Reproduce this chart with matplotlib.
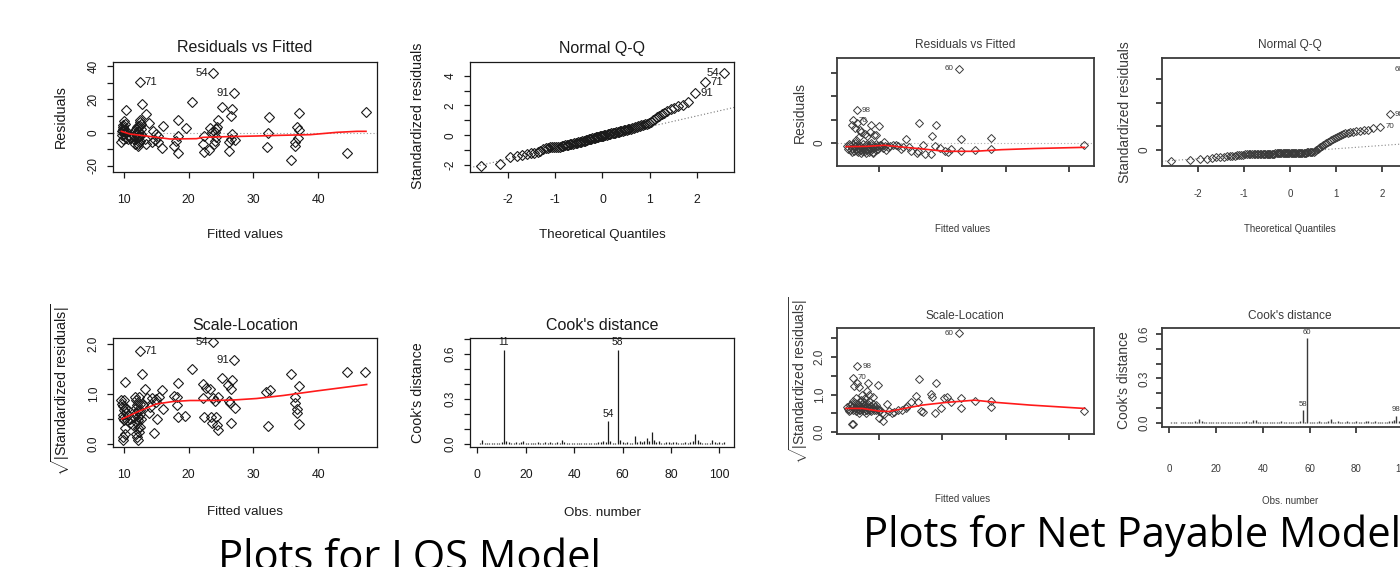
"""Regression diagnostic panels for the LOS and Net Payable models, as on the slide."""

from statistics import NormalDist

import matplotlib

matplotlib.use("Agg")
import matplotlib.pyplot as plt

# ---------------------------------------------------------------- LOS model
# residuals vs fitted (first three points are the labelled ones)
LOS_FITTED = [23.8, 12.4, 27.0,
              9.6, 9.7, 9.8, 9.9, 9.9, 10.0, 10.2, 10.1, 10.3, 10.7, 10.9, 10.3, 9.7, 9.8, 10.0, 10.1, 9.9, 10.4, 10.6, 11.0,
              11.5, 11.7, 11.7, 11.9, 12.0, 12.0, 12.1, 12.2, 12.3, 12.4, 12.4, 12.5, 12.5, 12.6, 12.7, 12.2, 12.3, 12.1,
              12.0, 11.8, 12.6, 12.4, 12.2, 11.6, 12.8, 13.2, 13.4, 13.4,
              13.9, 14.4, 14.5, 15.2, 15.3, 15.8, 16.0, 14.8, 15.0,
              17.7, 18.1, 18.4, 18.4, 18.4, 19.6, 20.5,
              22.2, 22.3, 22.3, 23.2, 23.3, 23.6, 23.9, 24.0, 24.1, 24.2, 24.2, 24.3, 24.6, 25.1,
              26.2, 26.3, 26.5, 26.5, 26.7, 26.7, 27.2,
              32.1, 32.2, 32.4,
              35.8, 36.4, 36.5, 36.7, 36.9, 37.1, 37.1,
              44.5, 47.4]
LOS_RESID = [35.6, 30.2, 24.0,
             -5.8, -1.2, 1.2, 3.2, 2.2, 7.2, 5.2, 0.2, -3.2, -1.8, -2.4, 13.6, 0.8, -3.5, -0.5, 1.8, 4.5, 0.5, -4.0, -3.0,
             -1.8, 1.2, -6.8, -0.8, 3.2, -3.2, -7.8, 4.2, 0.2, 6.2, -4.8, 7.6, -1.8, 2.2, 5.2, -2.5, -5.5, 1.0,
             -1.0, 2.5, -0.5, 3.8, -6.5, -4.0, 17.2, -3.8, -6.8, 11.2,
             5.6, -5.8, 1.2, -1.8, -5.8, -9.4, 4.2, -4.5, -1.0,
             -7.8, -5.2, 7.6, -1.8, -12.2, 2.8, 18.6,
             -6.8, -2.2, -11.4, -10.4, 2.8, 0.2, -6.8, -4.8, 0.2, -2.8, 2.2, 3.6, 7.6, 15.2,
             -10.8, -5.4, -3.8, 10.2, 14.2, -0.8, -4.2,
             -8.8, -0.4, 9.6,
             -16.2, -7.8, -5.8, 3.6, -3.4, 1.6, 11.8,
             -12.0, 12.6]
LOS_IDS = ["54", "71", "91"]
LOS_RES_SMOOTH_X = [9.6, 10.9, 13.0, 17.1, 21.2, 22.2, 25.9, 30.5, 34.1, 38.8, 42.9, 46.0, 47.4]
LOS_RES_SMOOTH_Y = [0.8, -0.8, -1.8, -3.8, -3.6, -2.8, -2.4, -2.0, -1.6, -1.2, 0.2, 0.8, 0.8]

# normal Q-Q (sorted standardized residuals)
LOS_QQ_SAMPLE = [-2.05, -1.95, -1.48, -1.42, -1.32, -1.25, -1.22, -1.18, -1.14, -1.05,
                 -0.95, -0.88, -0.84, -0.82, -0.81, -0.80, -0.79, -0.78, -0.76, -0.73,
                 -0.70, -0.68, -0.66, -0.63, -0.60, -0.58, -0.56, -0.54, -0.52, -0.50,
                 -0.48, -0.46, -0.43, -0.41, -0.38, -0.36, -0.33, -0.30, -0.27, -0.25,
                 -0.22, -0.20, -0.18, -0.16, -0.14, -0.12, -0.10, -0.08, -0.06, -0.04,
                 -0.02, 0.00, 0.02, 0.04, 0.06, 0.08, 0.10, 0.12, 0.14, 0.16,
                 0.18, 0.20, 0.22, 0.24, 0.26, 0.28, 0.30, 0.32, 0.34, 0.36,
                 0.39, 0.42, 0.45, 0.48, 0.51, 0.54, 0.57, 0.60, 0.63, 0.66,
                 0.70, 0.74, 0.78, 0.84, 0.90, 1.00, 1.10, 1.20, 1.30, 1.40,
                 1.52, 1.65, 1.75, 1.85, 1.95, 2.05, 2.20, 2.85, 3.55, 4.20]
LOS_QQ_IDS = ["91", "71", "54"]
LOS_QQ_INTERCEPT = -0.15
LOS_QQ_SLOPE = 0.725

# scale-location
LOS_SL_FITTED = [23.7, 12.4, 27.0,
                 9.6, 10.0, 9.8, 10.0, 9.8, 10.0, 10.1, 10.2, 9.8, 9.9, 10.4, 10.6, 10.2, 9.7, 10.1, 9.9, 10.3, 10.9, 10.5, 11.0,
                 11.7, 11.9, 12.0, 12.1, 11.9, 12.2, 12.1, 12.0, 12.1, 11.9, 12.0, 12.1, 12.4, 11.4, 12.4, 12.2, 12.3, 11.8,
                 12.5, 12.6, 12.8, 12.3, 11.6, 12.5, 13.3, 13.5, 14.0, 13.0,
                 14.4, 14.6, 14.9, 15.1, 15.4, 15.8, 16.0, 13.8, 15.0,
                 17.7, 18.2, 18.2, 18.3, 18.3, 19.5, 20.5,
                 22.2, 22.2, 22.3, 22.7, 23.3, 23.4, 23.6, 23.8, 24.0, 24.2, 24.3, 24.5, 24.5, 25.1,
                 26.1, 26.3, 26.4, 26.5, 26.5, 26.7, 27.1,
                 32.0, 32.2, 32.5,
                 35.8, 36.4, 36.4, 36.7, 36.8, 37.0, 37.0,
                 44.5, 47.3]
LOS_SL = [2.04, 1.87, 1.68,
          0.88, 0.88, 0.76, 0.68, 0.58, 0.48, 0.33, 0.20, 0.15, 0.09, 0.48, 0.58, 1.25, 0.80, 0.72, 0.52, 0.62, 0.42, 0.70, 0.50,
          0.95, 0.88, 0.78, 0.68, 0.62, 0.55, 0.48, 0.42, 0.32, 0.20, 0.15, 0.09, 0.35, 0.38, 0.68, 0.85, 0.95, 0.72,
          0.60, 0.50, 1.40, 0.25, 0.55, 0.80, 1.10, 0.92, 0.75, 0.78,
          0.93, 0.23, 0.90, 0.51, 0.94, 1.08, 0.70, 0.62, 0.84,
          0.97, 0.94, 0.78, 0.54, 1.23, 0.56, 1.50,
          1.20, 0.93, 0.54, 1.12, 1.10, 0.55, 0.43, 0.92, 0.87, 0.55, 0.39, 0.28, 0.94, 1.32,
          1.18, 0.87, 0.82, 1.10, 0.43, 1.29, 0.72,
          1.04, 0.37, 1.09,
          1.40, 0.95, 0.82, 0.63, 0.70, 0.41, 1.17,
          1.45, 1.45]
LOS_SL_SMOOTH_X = [9.7, 12.4, 15.0, 17.6, 20.2, 23.8, 26.9, 30.5, 34.6, 39.7, 47.5]
LOS_SL_SMOOTH_Y = [0.50, 0.66, 0.80, 0.85, 0.87, 0.87, 0.88, 0.91, 0.97, 1.06, 1.19]

# Cook's distance, obs 1..102
LOS_COOK = [0.005, 0.030, 0.008, 0.006, 0.009, 0.007, 0.005, 0.008, 0.006, 0.012,
            0.630, 0.018, 0.015, 0.010, 0.008, 0.012, 0.009, 0.014, 0.022, 0.010,
            0.008, 0.006, 0.009, 0.007, 0.011, 0.006, 0.009, 0.012, 0.008, 0.014,
            0.007, 0.009, 0.013, 0.006, 0.030, 0.011, 0.008, 0.010, 0.007, 0.009,
            0.006, 0.010, 0.007, 0.008, 0.006, 0.009, 0.007, 0.010, 0.008, 0.012,
            0.016, 0.020, 0.012, 0.153, 0.020, 0.010, 0.008, 0.630, 0.025, 0.012,
            0.009, 0.011, 0.008, 0.010, 0.055, 0.012, 0.020, 0.015, 0.022, 0.040,
            0.018, 0.080, 0.025, 0.012, 0.020, 0.008, 0.010, 0.015, 0.012, 0.009,
            0.011, 0.014, 0.008, 0.010, 0.007, 0.012, 0.009, 0.011, 0.018, 0.070,
            0.025, 0.012, 0.008, 0.010, 0.007, 0.009, 0.030, 0.012, 0.008, 0.015,
            0.010, 0.012]
LOS_COOK_IDS = {11: "11", 54: "54", 58: "58"}

# ------------------------------------------------------ Net Payable model
NP_FITTED = [2.26, 0.65, 0.60,
             0.57, 0.62, 0.66, 0.70, 0.72, 0.75, 0.78, 0.82, 0.86, 0.88, 0.92, 0.95, 1.00, 0.69, 0.64,
             0.50, 0.52, 0.55, 0.56, 0.58, 0.60, 0.61, 0.63, 0.64, 0.66, 0.67, 0.68, 0.70, 0.71, 0.73, 0.74,
             0.76, 0.77, 0.79, 0.80, 0.81, 0.83, 0.84, 0.86, 0.87, 0.89, 0.90, 0.92, 0.93, 0.95, 0.97, 0.98,
             1.00, 1.02, 1.04, 1.06, 1.08, 1.10, 1.14, 1.18,
             0.53, 0.57, 0.62, 0.65, 0.69, 0.72, 0.75, 0.78, 0.82, 0.85, 0.88, 0.91, 0.96, 1.12, 1.30, 1.35,
             1.22, 1.27, 1.38, 1.42, 1.47, 1.51, 1.60, 1.62, 1.64, 1.70, 1.72, 1.82, 1.83, 1.88, 1.90, 1.97,
             2.04, 2.09, 2.14, 2.30, 2.30, 2.51, 2.76, 2.76, 4.24]
NP_RESID = [3.17, 1.40, 0.97,
            0.75, 0.62, 0.85, 0.55, 0.45, 0.95, 0.40, 0.30, 0.48, 0.75, 0.35, 0.33, 0.74, 0.25, 0.12,
            -0.15, -0.25, -0.10, -0.30, -0.20, -0.05, -0.35, -0.15, -0.25, -0.10, -0.40, -0.20, -0.30, -0.12,
            -0.22, -0.35, -0.18, -0.28, -0.10, -0.42, -0.24, -0.16, -0.32, -0.20, -0.08, -0.27, -0.38, -0.14,
            -0.22, -0.30, -0.12, -0.25, -0.18, -0.08, -0.07, -0.22, 0.04, -0.15, -0.19, -0.12,
            -0.05, -0.38, -0.02, -0.33, -0.08, -0.42, -0.05, -0.36, -0.05, -0.40, -0.02, -0.45, -0.05, -0.30,
            -0.12, -0.25,
            -0.10, -0.07, -0.17, 0.17, -0.19, -0.36, -0.43, -0.36, 0.86, -0.10, -0.46, -0.47, 0.31, -0.14,
            0.77, -0.21, -0.36, -0.40, -0.24, 0.17, -0.36, -0.31, 0.21, -0.26, -0.07]
NP_IDS = ["60", "98", "70"]
NP_RES_SMOOTH_X = [0.48, 0.80, 1.09, 1.30, 1.62, 2.04, 2.51, 2.93, 3.46, 4.24]
NP_RES_SMOOTH_Y = [-0.16, -0.15, -0.10, -0.16, -0.24, -0.36, -0.36, -0.29, -0.24, -0.19]

NP_QQ_SAMPLE = [-0.46, -0.42, -0.39, -0.37, -0.34, -0.32, -0.30, -0.28, -0.27, -0.26,
                -0.25, -0.24, -0.23, -0.22, -0.21, -0.20, -0.19, -0.19, -0.19, -0.18,
                -0.18, -0.18, -0.18, -0.18, -0.17, -0.17, -0.17, -0.17, -0.17, -0.17,
                -0.17, -0.16, -0.16, -0.16, -0.16, -0.16, -0.16, -0.15, -0.15, -0.15,
                -0.15, -0.15, -0.15, -0.14, -0.14, -0.14, -0.14, -0.14, -0.14, -0.13,
                -0.13, -0.13, -0.13, -0.13, -0.13, -0.12, -0.12, -0.12, -0.12, -0.12,
                -0.12, -0.11, -0.11, -0.11, -0.10, -0.10, -0.10, -0.09, -0.09, -0.07,
                -0.04, 0.00, 0.04, 0.08, 0.12, 0.16, 0.20, 0.24, 0.29, 0.34,
                0.38, 0.42, 0.47, 0.51, 0.55, 0.59, 0.63, 0.66, 0.70, 0.72,
                0.74, 0.76, 0.78, 0.80, 0.83, 0.86, 0.91, 0.99, 1.52, 3.40]
NP_QQ_IDS = ["70", "98", "60"]
NP_QQ_INTERCEPT = -0.09
NP_QQ_SLOPE = 0.14

NP_SL_FITTED = [2.26, 0.66, 0.59,
                0.61, 0.65, 0.69, 0.83, 0.81, 0.84, 0.78, 0.73, 0.70, 0.90, 0.98, 0.60, 0.57,
                0.50, 0.52, 0.54, 0.55, 0.57, 0.58, 0.60, 0.61, 0.62, 0.63, 0.64, 0.65, 0.66, 0.67, 0.68,
                0.69, 0.70, 0.71, 0.72, 0.73, 0.74, 0.75, 0.76, 0.77, 0.78, 0.79, 0.80, 0.81, 0.82, 0.83,
                0.84, 0.85, 0.86, 0.87, 0.88, 0.90, 0.92, 0.94, 0.96, 0.98, 1.00, 1.02, 1.05, 1.08,
                1.00, 1.07, 1.13, 1.16, 1.24, 1.37, 1.42, 1.45, 1.50, 1.59, 1.62, 1.64, 1.66, 1.69, 1.82,
                1.84, 1.88, 1.90, 1.98, 2.03, 2.08, 2.14, 2.30, 2.30, 2.51, 2.76, 2.76, 4.24, 1.30, 1.20,
                0.53, 0.59, 0.64, 0.68, 0.72, 0.76, 0.80, 0.85, 0.90, 0.95]
NP_SL = [2.63, 1.75, 1.45,
         1.23, 1.30, 1.19, 1.30, 1.09, 0.98, 0.90, 0.98, 0.81, 0.94, 1.25, 0.21, 0.21,
         0.68, 0.62, 0.72, 0.58, 0.66, 0.75, 0.60, 0.70, 0.64, 0.78, 0.57, 0.68, 0.62, 0.74, 0.60,
         0.66, 0.70, 0.58, 0.64, 0.76, 0.62, 0.68, 0.56, 0.72, 0.64, 0.60, 0.70, 0.66, 0.58, 0.74,
         0.62, 0.68, 0.60, 0.70, 0.56, 0.64, 0.60, 0.68, 0.58, 0.62, 0.55, 0.60, 0.52, 0.48,
         0.37, 0.30, 0.74, 0.55, 0.53, 0.59, 0.63, 0.70, 0.81, 0.96, 0.81, 1.40, 0.56, 0.53, 1.01,
         0.94, 0.50, 1.30, 0.65, 0.90, 0.94, 0.79, 0.90, 0.63, 0.83, 0.83, 0.68, 0.55, 0.58, 0.50,
         0.55, 0.82, 0.90, 0.52, 0.86, 0.80, 0.52, 0.82, 0.75, 0.72]
NP_SL_SMOOTH_X = [0.48, 0.74, 1.00, 1.16, 1.37, 1.69, 2.06, 2.51, 2.85, 3.38, 4.24]
NP_SL_SMOOTH_Y = [0.63, 0.63, 0.56, 0.55, 0.62, 0.72, 0.79, 0.85, 0.79, 0.72, 0.63]

NP_COOK = [0.005, 0.004, 0.006, 0.003, 0.005, 0.004, 0.006, 0.005, 0.008, 0.010,
           0.012, 0.010, 0.030, 0.012, 0.008, 0.010, 0.006, 0.005, 0.007, 0.008,
           0.004, 0.005, 0.006, 0.004, 0.008, 0.006, 0.005, 0.010, 0.006, 0.005,
           0.008, 0.006, 0.012, 0.007, 0.010, 0.022, 0.018, 0.010, 0.006, 0.005,
           0.004, 0.006, 0.005, 0.004, 0.006, 0.005, 0.008, 0.012, 0.010, 0.008,
           0.006, 0.007, 0.010, 0.008, 0.006, 0.012, 0.085, 0.008, 0.570, 0.010,
           0.006, 0.008, 0.010, 0.012, 0.008, 0.006, 0.010, 0.012, 0.030, 0.010,
           0.008, 0.015, 0.010, 0.006, 0.008, 0.012, 0.007, 0.010, 0.008, 0.012,
           0.006, 0.010, 0.008, 0.012, 0.015, 0.010, 0.008, 0.012, 0.006, 0.010,
           0.008, 0.006, 0.010, 0.012, 0.015, 0.020, 0.050, 0.012, 0.008, 0.010]
NP_COOK_IDS = {57: "58", 59: "60", 97: "98"}

CAPTIONS = ["Plots for LOS Model", "Plots for Net Payable Model"]

# ------------------------------------------------------------------ drawing
W, H = 1400, 567
SANS = ["Liberation Sans", "DejaVu Sans"]
SLIDE = ["Open Sans", "DejaVu Sans"]

plt.rcParams["mathtext.fontset"] = "custom"
plt.rcParams["mathtext.rm"] = "Liberation Sans"
plt.rcParams["mathtext.it"] = "Liberation Sans:italic"

fig = plt.figure(figsize=(W / 100, H / 100), dpi=100)
fig.patch.set_facecolor("white")


def box(x0, y0, x1, y1):
    return [x0 / W, 1 - y1 / H, (x1 - x0) / W, (y1 - y0) / H]


def put(x, y, s, **kw):
    kw.setdefault("ha", "center")
    kw.setdefault("va", "center")
    fig.text(x / W, 1 - y / H, s, **kw)


# the slide squeezed both image groups sideways, so horizontal text is set small
LEFT = dict(ink="#1a1a1a", lw=0.9, xsize=8.8, ysize=8.5, xpad=11.5, ypad=5.0,
            ms=5.0, mew=0.8, title=11.5, lab=9.6, ylab=10.3, idsize=8.2, cook=7.4)
RIGHT = dict(ink="#3a3a3a", lw=1.3, xsize=7.0, ysize=8.5, xpad=12.0, ypad=3.5,
             ms=3.8, mew=0.7, title=8.6, lab=7.0, ylab=10.0, idsize=5.8, cook=5.6)


def r_axes(rect, st, xlim, ylim, xticks, xlabels, yticks, ylabels, xpad=None):
    ax = fig.add_axes(box(*rect))
    ax.set_xlim(xlim)
    ax.set_ylim(ylim)
    ax.set_xticks(xticks)
    ax.set_xticklabels(xlabels, family=SANS, fontsize=st["xsize"], color=st["ink"])
    ax.set_yticks(yticks)
    ax.set_yticklabels(ylabels, family=SANS, fontsize=st["ysize"], color=st["ink"],
                       rotation=90, va="center")
    ax.tick_params(axis="x", direction="out", length=4.5, width=st["lw"], color=st["ink"],
                   pad=st["xpad"] if xpad is None else xpad)
    ax.tick_params(axis="y", direction="out", length=4.5, width=st["lw"], color=st["ink"], pad=st["ypad"])
    for sp in ax.spines.values():
        sp.set_linewidth(st["lw"])
        sp.set_color(st["ink"])
    return ax


def points(ax, x, y, st):
    ax.plot(x, y, ls="none", marker="D", ms=st["ms"], mfc="none", mec=st["ink"], mew=st["mew"])


def label_point(ax, x, y, s, side, st):
    dx = 3.5 if side == "right" else -3.5
    ax.annotate(s, (x, y), xytext=(dx, 0), textcoords="offset points",
                ha="left" if side == "right" else "right", va="center",
                family=SANS, fontsize=st["idsize"], color=st["ink"], annotation_clip=False)


def label_cook(ax, obs, values, ids, st):
    for o, s in ids.items():
        ax.annotate(s, (o, values[o - 1]), xytext=(0, 1.5), textcoords="offset points",
                    ha="center", va="bottom", family=SANS, fontsize=st["cook"], color=st["ink"],
                    annotation_clip=False)


def texts(st, title, tpos, xlab, xpos, ylab, ypos):
    put(*tpos, title, family=SANS, fontsize=st["title"], color=st["ink"])
    put(*xpos, xlab, family=SANS, fontsize=st["lab"], color=st["ink"])
    put(*ypos, ylab, family=SANS, fontsize=st["ylab"], color=st["ink"], rotation=90)


def quantiles(n):
    nd = NormalDist()
    return [nd.inv_cdf((i + 0.5) / n) for i in range(n)]


SQRT_LABEL = r"$\sqrt{|\mathrm{Standardized\ residuals}|}$"

# ---- LOS: residuals vs fitted
ax = r_axes((113, 62, 377, 172), LEFT, (8.3, 49.1), (-23.6, 42.4),
            [10, 20, 30, 40], ["10", "20", "30", "40"],
            [-20, -10, 0, 10, 20, 30, 40], ["-20", "", "0", "", "20", "", "40"])
ax.axhline(0, ls=(0, (1, 2)), color="#999999", lw=0.8)
points(ax, LOS_FITTED, LOS_RESID, LEFT)
ax.plot(LOS_RES_SMOOTH_X, LOS_RES_SMOOTH_Y, color="#ff1a1a", lw=1.2)
for i, (s, side) in enumerate(zip(LOS_IDS, ["left", "right", "left"])):
    label_point(ax, LOS_FITTED[i], LOS_RESID[i], s, side, LEFT)
texts(LEFT, "Residuals vs Fitted", (245, 48), "Fitted values", (245, 235), "Residuals", (61, 117))

# ---- LOS: normal Q-Q
q = quantiles(len(LOS_QQ_SAMPLE))
ax = r_axes((470, 62, 734, 172), LEFT, (-2.8, 2.78), (-2.47, 4.92),
            [-2, -1, 0, 1, 2], ["-2", "-1", "0", "1", "2"],
            [-2, -1, 0, 1, 2, 3, 4], ["-2", "", "0", "", "2", "", "4"])
ax.axline((0, LOS_QQ_INTERCEPT), slope=LOS_QQ_SLOPE, ls=(0, (1, 2)), color="#777777", lw=0.8)
points(ax, q, LOS_QQ_SAMPLE, LEFT)
for k, (s, side) in enumerate(zip(LOS_QQ_IDS, ["right", "right", "left"])):
    i = len(q) - 3 + k
    label_point(ax, q[i], LOS_QQ_SAMPLE[i], s, side, LEFT)
texts(LEFT, "Normal Q-Q", (602, 48), "Theoretical Quantiles", (602, 235),
      "Standardized residuals", (418, 116))

# ---- LOS: scale-location
ax = r_axes((113, 338, 377, 447), LEFT, (8.3, 49.1), (-0.06, 2.12),
            [10, 20, 30, 40], ["10", "20", "30", "40"],
            [0, 0.5, 1.0, 1.5, 2.0], ["0.0", "", "1.0", "", "2.0"])
points(ax, LOS_SL_FITTED, LOS_SL, LEFT)
ax.plot(LOS_SL_SMOOTH_X, LOS_SL_SMOOTH_Y, color="#ff1a1a", lw=1.2)
for i, (s, side) in enumerate(zip(LOS_IDS, ["left", "right", "left"])):
    label_point(ax, LOS_SL_FITTED[i], LOS_SL[i], s, side, LEFT)
texts(LEFT, "Scale-Location", (245, 325), "Fitted values", (245, 512), SQRT_LABEL, (61, 390))

# ---- LOS: Cook's distance
obs = list(range(1, len(LOS_COOK) + 1))
ax = r_axes((470, 338, 734, 447), LEFT, (-3.04, 106.04), (-0.02, 0.707),
            [0, 20, 40, 60, 80, 100], ["0", "20", "40", "60", "80", "100"],
            [0, 0.1, 0.2, 0.3, 0.4, 0.5, 0.6, 0.7], ["0.0", "", "", "0.3", "", "", "0.6", ""])
ax.vlines(obs, 0, LOS_COOK, color=LEFT["ink"], lw=0.9)
label_cook(ax, obs, LOS_COOK, LOS_COOK_IDS, LEFT)
texts(LEFT, "Cook's distance", (602, 325), "Obs. number", (602, 513), "Cook's distance", (418, 393))

# ---- Net Payable: residuals vs fitted (tick values are blurred out on the slide)
ax = r_axes((837, 58, 1094, 166), RIGHT, (0.34, 4.39), (-0.99, 3.64),
            [1, 2, 3, 4], ["", "", "", ""], [0, 1, 2, 3], ["0", "", "", ""])
ax.axhline(0, ls=(0, (1, 2)), color="#aaaaaa", lw=0.8)
points(ax, NP_FITTED, NP_RESID, RIGHT)
ax.plot(NP_RES_SMOOTH_X, NP_RES_SMOOTH_Y, color="#ff1a1a", lw=1.2)
for i, (s, side) in enumerate(zip(NP_IDS, ["left", "right", "right"])):
    label_point(ax, NP_FITTED[i], NP_RESID[i], s, side, RIGHT)
texts(RIGHT, "Residuals vs Fitted", (965, 45), "Fitted values", (963, 229), "Residuals", (800, 113))

# ---- Net Payable: normal Q-Q (right edge runs off the slide)
q = quantiles(len(NP_QQ_SAMPLE))
ax = r_axes((1162, 58, 1419, 166), RIGHT, (-2.78, 2.8), (-0.68, 3.89),
            [-2, -1, 0, 1, 2], ["-2", "-1", "0", "1", "2"], [0, 1, 2, 3], ["0", "", "", ""])
ax.axline((0, NP_QQ_INTERCEPT), slope=NP_QQ_SLOPE, ls=(0, (1, 2)), color="#888888", lw=0.8)
points(ax, q, NP_QQ_SAMPLE, RIGHT)
for k, (s, side) in enumerate(zip(NP_QQ_IDS, ["right", "right", "left"])):
    i = len(q) - 3 + k
    label_point(ax, q[i], NP_QQ_SAMPLE[i], s, side, RIGHT)
texts(RIGHT, "Normal Q-Q", (1290, 45), "Theoretical Quantiles", (1290, 229),
      "Standardized residuals", (1125, 112))

# ---- Net Payable: scale-location
ax = r_axes((837, 328, 1094, 434), RIGHT, (0.34, 4.39), (-0.05, 2.77),
            [1, 2, 3, 4], ["", "", "", ""],
            [0, 0.5, 1.0, 1.5, 2.0, 2.5], ["0.0", "", "1.0", "", "2.0", ""])
points(ax, NP_SL_FITTED, NP_SL, RIGHT)
ax.plot(NP_SL_SMOOTH_X, NP_SL_SMOOTH_Y, color="#ff1a1a", lw=1.2)
for i, (s, side) in enumerate(zip(NP_IDS, ["left", "right", "right"])):
    label_point(ax, NP_SL_FITTED[i], NP_SL[i], s, side, RIGHT)
texts(RIGHT, "Scale-Location", (965, 316), "Fitted values", (963, 499), SQRT_LABEL, (799, 380))

# ---- Net Payable: Cook's distance
obs = list(range(1, len(NP_COOK) + 1))
ax = r_axes((1162, 328, 1415, 427), RIGHT, (-2.96, 104.96), (-0.027, 0.64),
            [0, 20, 40, 60, 80, 100], ["0", "20", "40", "60", "80", "100"],
            [0, 0.1, 0.2, 0.3, 0.4, 0.5, 0.6], ["0.0", "", "", "0.3", "", "", "0.6"], xpad=22.0)
ax.vlines(obs, 0, NP_COOK, color=RIGHT["ink"], lw=1.0)
label_cook(ax, obs, NP_COOK, NP_COOK_IDS, RIGHT)
texts(RIGHT, "Cook's distance", (1290, 316), "Obs. number", (1290, 501), "Cook's distance", (1124, 380))

# ---- slide captions
put(218, 570, CAPTIONS[0], ha="left", va="baseline", family=SLIDE, fontsize=30, color="black")
put(863, 547, CAPTIONS[1], ha="left", va="baseline", family=SLIDE, fontsize=30, color="black")

fig.savefig("out.png", dpi=100)
